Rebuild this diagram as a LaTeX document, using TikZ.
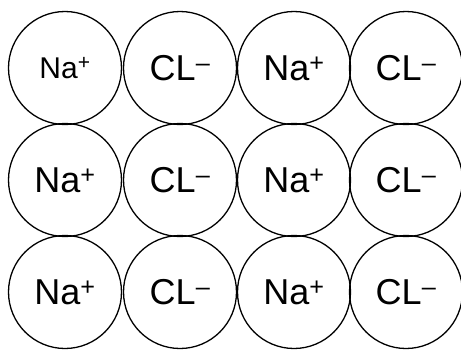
\documentclass[tikz,border=0pt]{standalone}
\usepackage{fontspec}
\setmainfont{Liberation Sans}
\newcommand{\ionp}{\textsuperscript{+}}
\newcommand{\ionm}{\textsuperscript{–}}
\tikzset{
  ion/.style={draw, circle, line width=1.3pt, minimum size=113pt, inner sep=0pt,
    font=\fontsize{36}{36}\selectfont},
  typed/.style={font=\fontsize{30}{30}\selectfont}
}
\begin{document}
\begin{tikzpicture}[x=1pt, y=-1pt]
    \useasboundingbox (0,0) rectangle (461,349);

    % Top row
    \node[ion, typed] (na11) at (65,68) {Na\ionp};
    \node[ion] (cl12) at (180,68) {CL\ionm};
    \node[ion] (na13) at (294,68) {Na\ionp};
    \node[ion] (cl14) at (406,68) {CL\ionm};

    % Middle row
    \node[ion] (na21) at (65,180) {Na\ionp};
    \node[ion] (cl22) at (180,180) {CL\ionm};
    \node[ion] (na23) at (294,180) {Na\ionp};
    \node[ion] (cl24) at (406,180) {CL\ionm};

    % Bottom row
    \node[ion] (na31) at (65,292) {Na\ionp};
    \node[ion] (cl32) at (180,292) {CL\ionm};
    \node[ion] (na33) at (294,292) {Na\ionp};
    \node[ion] (cl34) at (406,292) {CL\ionm};
\end{tikzpicture}
\end{document}
